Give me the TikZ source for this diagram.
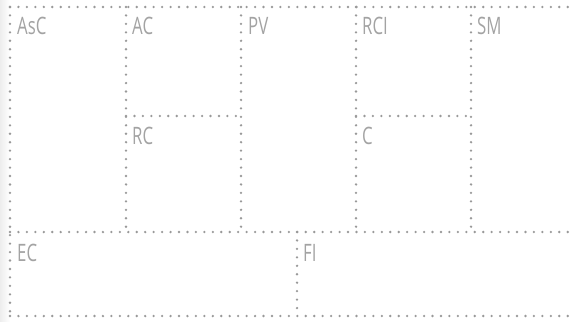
\documentclass[tikz,border=0pt]{standalone}
\usepackage{fontspec}
\setmainfont{Open Sans}[FakeStretch=0.7]
\begin{document}
\begin{tikzpicture}[x=1pt,y=-1pt,
  grid/.style={draw=black!40,line width=2.6pt,line cap=round,dash pattern=on 0pt off 8.45pt},
  lab/.style={anchor=base west,inner sep=0pt,text=black!36,font=\fontsize{24}{24}\selectfont}]
\useasboundingbox (0,0) rectangle (575,321);
\shade[left color=black!7,right color=white] (0,0) rectangle (10,321);
% outer and main lines
\draw[grid] (10,7) -- (575,7);
\draw[grid] (10,7) -- (10,316);
\draw[grid] (10,316) -- (575,316);
\draw[grid] (10,232) -- (575,232);
\draw[grid] (126,7) -- (126,232);
\draw[grid] (241,7) -- (241,232);
\draw[grid] (356,7) -- (356,232);
\draw[grid] (471,7) -- (471,232);
\draw[grid] (297,232) -- (297,316);
\draw[grid] (126,116) -- (241,116);
\draw[grid] (356,116) -- (471,116);
% labels
\node[lab] (asc) at (17,35) {AsC};
\node[lab] (ac) at (132,35) {AC};
\node[lab] (pv) at (248,35) {PV};
\node[lab] (rci) at (362,35) {RCI};
\node[lab] (sm) at (477,35) {SM};
\node[lab] (rc) at (132,144) {RC};
\node[lab] (c) at (362,144) {C};
\node[lab] (ec) at (17,261) {EC};
\node[lab] (fi) at (303,261) {FI};
\end{tikzpicture}
\end{document}
